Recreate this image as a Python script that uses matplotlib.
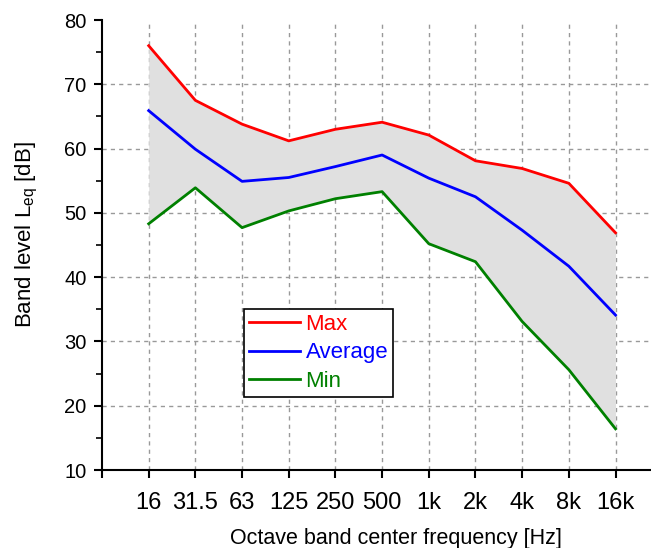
import numpy as np
import matplotlib
matplotlib.use("Agg")
import matplotlib.pyplot as plt
from matplotlib.ticker import MultipleLocator

plt.rcParams['font.family'] = ['Liberation Sans', 'DejaVu Sans']
plt.rcParams['mathtext.fontset'] = 'custom'
plt.rcParams['mathtext.rm'] = 'Liberation Sans'

bands = ['16', '31.5', '63', '125', '250', '500', '1k', '2k', '4k', '8k', '16k']
max_level = [76.0, 67.5, 63.8, 61.2, 63.0, 64.1, 62.1, 58.1, 56.9, 54.6, 46.9]
avg_level = [65.9, 59.9, 54.9, 55.5, 57.2, 59.0, 55.4, 52.5, 47.3, 41.7, 34.1]
min_level = [48.3, 53.9, 47.7, 50.3, 52.2, 53.3, 45.2, 42.4, 33.1, 25.6, 16.4]

x = np.arange(1, len(bands) + 1)

fig = plt.figure(figsize=(6.51, 5.48), dpi=100)
ax = fig.add_axes([102 / 651, 1 - 470 / 548, 1 - 102 / 651, (470 - 20) / 548])

# shaded range between min and max
ax.fill_between(x, min_level, max_level, color='#e0e0e0', lw=0, zorder=1)

# grid drawn by hand so there's no line on the top edge
for xi in x:
    ax.axvline(xi, color='#999999', ls=(0, (3, 3)), lw=1, zorder=0.5)
for yv in range(20, 80, 10):
    ax.axhline(yv, color='#999999', ls=(0, (3, 3)), lw=1, zorder=0.5)

ax.plot(x, max_level, color='#ff0000', lw=2, label='Max', zorder=3)
ax.plot(x, avg_level, color='#0000ff', lw=2, label='Average', zorder=3)
ax.plot(x, min_level, color='#008000', lw=2, label='Min', zorder=3)

ax.set_xlim(0, 11.76)
ax.set_ylim(10, 80)
ax.set_xticks(np.arange(0, len(bands) + 1))
ax.set_xticklabels([''] + bands)
ax.yaxis.set_major_locator(MultipleLocator(10))
ax.yaxis.set_minor_locator(MultipleLocator(5))

for side in ['top', 'right']:
    ax.spines[side].set_visible(False)
for side in ['left', 'bottom']:
    ax.spines[side].set_linewidth(1.5)

ax.tick_params(axis='both', which='major', direction='out', length=6, width=1.5)
ax.tick_params(axis='y', which='minor', direction='out', length=4, width=1.2)
ax.tick_params(axis='x', labelsize=17, pad=10)
ax.tick_params(axis='y', labelsize=14.5, pad=5)

ax.set_xlabel('Octave band center frequency [Hz]', fontsize=15.5)
ax.xaxis.set_label_coords(0.5355, -0.129)
ax.set_ylabel('Band level L$_{\\mathregular{eq}}$ [dB]', fontsize=16)
ax.yaxis.set_label_coords(-0.113, 0.522)

leg = ax.legend(loc='lower left', bbox_to_anchor=((244 - 102) / 549, (470 - 397) / 450),
                fontsize=16, frameon=True, fancybox=False, framealpha=1,
                edgecolor='black', handlelength=2.3, handletextpad=0.25,
                labelspacing=0.35, borderpad=0.22, borderaxespad=0)
leg.get_frame().set_linewidth(1.2)
for txt, line in zip(leg.get_texts(), leg.get_lines()):
    txt.set_color(line.get_color())

fig.savefig('out.png', dpi=100)
